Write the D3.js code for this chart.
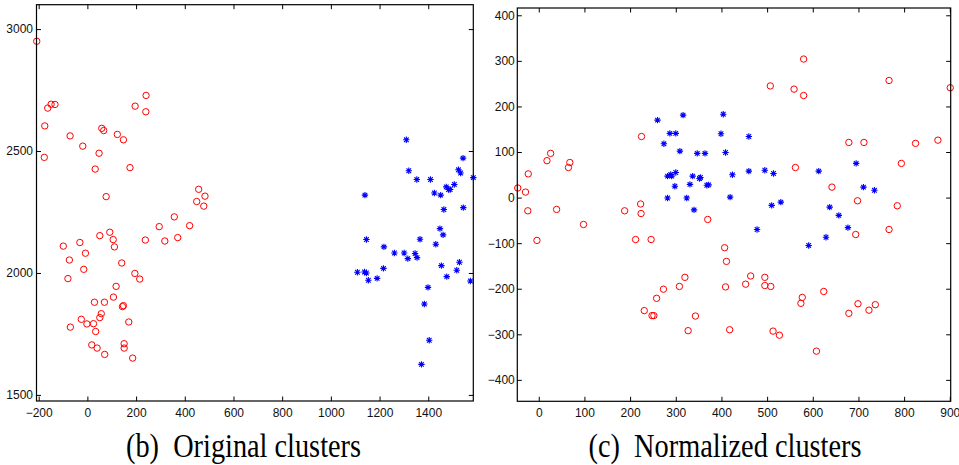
<!DOCTYPE html>
<html><head><meta charset="utf-8">
<script src="https://cdn.jsdelivr.net/npm/d3@7"></script>
<style>
html,body{margin:0;padding:0;background:#fff;}
svg{display:block;}
</style></head>
<body>
<svg id="chart" width="959" height="465"></svg>
<script>
// ---------- data: (b) Original clusters ----------
const origRedX = [-208,-163,-149,-133,-175,-177,-71,-19,48,32,59,67,123,148,175,77,196,241,240,457,483,449,478,357,295,420,238,318,371,92,51,106,111,-99,-31,-8,-74,-15,-80,141,195,215,118,107,29,70,144,148,57,51,-25,-2,25,-70,34,170,18,40,71,151,151,186];
const origRedY = [2950,2676,2692,2691,2603,2474,2562,2520,2491,2426,2593,2584,2568,2546,2432,2313,2684,2728,2661,2343,2315,2293,2274,2230,2190,2194,2135,2131,2145,2167,2153,2137,2107,2110,2125,2081,2053,2015,1977,2041,1998,1975,1945,1901,1880,1880,1862,1866,1833,1817,1810,1791,1792,1778,1760,1799,1705,1692,1666,1710,1692,1651];
const origBlueX = [1310,1320,1353,1409,1543,1524,1533,1585,1507,1474,1483,1490,1425,1451,1140,1464,1544,1448,1461,1431,1366,1146,1218,1261,1301,1316,1346,1354,1454,1528,1517,1476,1573,1109,1138,1146,1154,1190,1216,1399,1384,1404,1372];
const origBlueY = [2546,2419,2383,2383,2471,2423,2410,2391,2363,2353,2342,2342,2328,2319,2319,2260,2268,2182,2156,2118,2138,2137,2107,2082,2082,2059,2080,2063,2030,2044,2011,1985,1967,2003,2004,2000,1970,1978,2019,1941,1873,1724,1625];
const origXTicks = [-200,0,200,400,600,800,1000,1200,1400];
const origYTicks = [1500,2000,2500,3000];
const origXDomain = [-209,1585];
const origYDomain = [1475,3100];

// ---------- data: (c) Normalized clusters ----------
const normRedX = [-46,-29,-23,-24,18,26,65,68,39,225,188,223,224,370,-4,98,212,246,320,308,273,258,231,248,252,343,327,580,507,559,580,767,901,679,712,825,874,562,794,642,698,785,694,767,407,411,409,464,453,495,495,508,418,513,527,608,577,574,624,679,699,723,737];
const normRedY = [21,12,52,-29,81,97,66,77,-26,134,-29,-14,-35,-48,-94,-59,-92,-92,-175,-195,-201,-221,-248,-259,-259,-260,-292,304,245,238,224,257,241,121,121,119,126,66,75,23,-7,-18,-81,-70,-110,-140,-196,-172,-190,-175,-193,-195,-290,-293,-302,-337,-219,-232,-206,-254,-233,-247,-235];
const normBlueX = [260,274,316,287,300,309,347,364,282,289,291,300,298,282,324,331,337,352,354,368,372,340,404,399,409,424,419,460,460,495,514,510,530,613,637,657,695,711,735,478,591,629,677];
const normBlueY = [170,118,181,141,141,102,97,97,47,51,47,55,25,-1,-1,29,47,42,44,27,28,-27,183,140,99,50,1,134,58,60,53,-17,-10,58,-21,-39,75,23,16,-70,-105,-87,-66];
const normXTicks = [0,100,200,300,400,500,600,700,800,900];
const normYTicks = [-400,-300,-200,-100,0,100,200,300,400];
const normXDomain = [-47,902];
const normYDomain = [-447,416];

const captions = ["(b)\u00a0\u00a0Original clusters", "(c)\u00a0\u00a0Normalized clusters"];

// ---------- drawing ----------
const svg = d3.select("#chart");
const fmt = d => (d < 0 ? "\u2212" + Math.abs(d) : String(d));

function panel(cfg) {
  const x = d3.scaleLinear().domain(cfg.xDomain).range([cfg.left, cfg.right]);
  const y = d3.scaleLinear().domain(cfg.yDomain).range([cfg.bottom, cfg.top]);
  const g = svg.append("g");
  const tl = 4.5;

  const styleAxis = sel => {
    sel.select(".domain").remove();
    sel.selectAll(".tick line").attr("stroke", "#000").attr("stroke-width", 1);
    sel.selectAll(".tick text").attr("fill", "#111")
      .style("font-family", "'Liberation Sans', Arial, Helvetica, sans-serif")
      .style("font-size", "12px");
  };

  g.append("g").attr("transform", `translate(0,${cfg.bottom})`)
    .call(d3.axisBottom(x).tickValues(cfg.xTicks).tickFormat(fmt).tickSizeInner(-tl).tickSizeOuter(0).tickPadding(7))
    .call(styleAxis);
  g.append("g").attr("transform", `translate(0,${cfg.top})`)
    .call(d3.axisTop(x).tickValues(cfg.xTicks).tickFormat("").tickSizeInner(-tl).tickSizeOuter(0))
    .call(styleAxis);
  g.append("g").attr("transform", `translate(${cfg.left},0)`)
    .call(d3.axisLeft(y).tickValues(cfg.yTicks).tickFormat(fmt).tickSizeInner(-tl).tickSizeOuter(0).tickPadding(cfg.yPad))
    .call(styleAxis);
  g.append("g").attr("transform", `translate(${cfg.right},0)`)
    .call(d3.axisRight(y).tickValues(cfg.yTicks).tickFormat("").tickSizeInner(-tl).tickSizeOuter(0))
    .call(styleAxis);

  // clip for markers
  const cid = "clip" + cfg.id;
  svg.append("clipPath").attr("id", cid).append("rect")
    .attr("x", cfg.left - 1).attr("y", cfg.top - 1)
    .attr("width", cfg.right - cfg.left + 5).attr("height", cfg.bottom - cfg.top + 2);

  const m = g.append("g");
  // red circles
  m.selectAll("circle").data(cfg.redX.map((v, i) => [v, cfg.redY[i]])).join("circle")
    .attr("cx", d => x(d[0])).attr("cy", d => y(d[1])).attr("r", 3.2)
    .attr("fill", "none").attr("stroke", "#ff0000").attr("stroke-width", 1);
  // blue asterisks
  const s = 3.2, dd = s * 0.72;
  const star = `M0,${-s}V${s}M${-s},0H${s}M${-dd},${-dd}L${dd},${dd}M${-dd},${dd}L${dd},${-dd}`;
  m.selectAll("path.star").data(cfg.blueX.map((v, i) => [v, cfg.blueY[i]])).join("path")
    .attr("class", "star")
    .attr("transform", d => `translate(${x(d[0])},${y(d[1])})`)
    .attr("d", star).attr("fill", "none").attr("stroke", "#0000ff").attr("stroke-width", 1.1);

  // box
  g.append("rect").attr("x", cfg.left).attr("y", cfg.top)
    .attr("width", cfg.right - cfg.left).attr("height", cfg.bottom - cfg.top)
    .attr("fill", "none").attr("stroke", "#000").attr("stroke-width", 1.2);

  // caption
  svg.append("text").attr("x", cfg.capX).attr("y", 457)
    .attr("text-anchor", "middle")
    .attr("textLength", cfg.capW).attr("lengthAdjust", "spacingAndGlyphs")
    .style("font-family", "'Liberation Serif', 'Times New Roman', Times, serif")
    .style("font-size", "34px").attr("fill", "#000")
    .text(cfg.caption);
}

panel({id: "b", left: 36.5, right: 473.3, top: 4.7, bottom: 401,
  xDomain: origXDomain, yDomain: origYDomain, xTicks: origXTicks, yTicks: origYTicks, yPad: 3.5,
  redX: origRedX, redY: origRedY, blueX: origBlueX, blueY: origBlueY,
  caption: captions[0], capX: 243.5, capW: 235});

panel({id: "c", left: 517.3, right: 950.7, top: 8, bottom: 401.3,
  xDomain: normXDomain, yDomain: normYDomain, xTicks: normXTicks, yTicks: normYTicks, yPad: 2.5,
  redX: normRedX, redY: normRedY, blueX: normBlueX, blueY: normBlueY,
  caption: captions[1], capX: 725, capW: 273});
</script>
</body></html>
